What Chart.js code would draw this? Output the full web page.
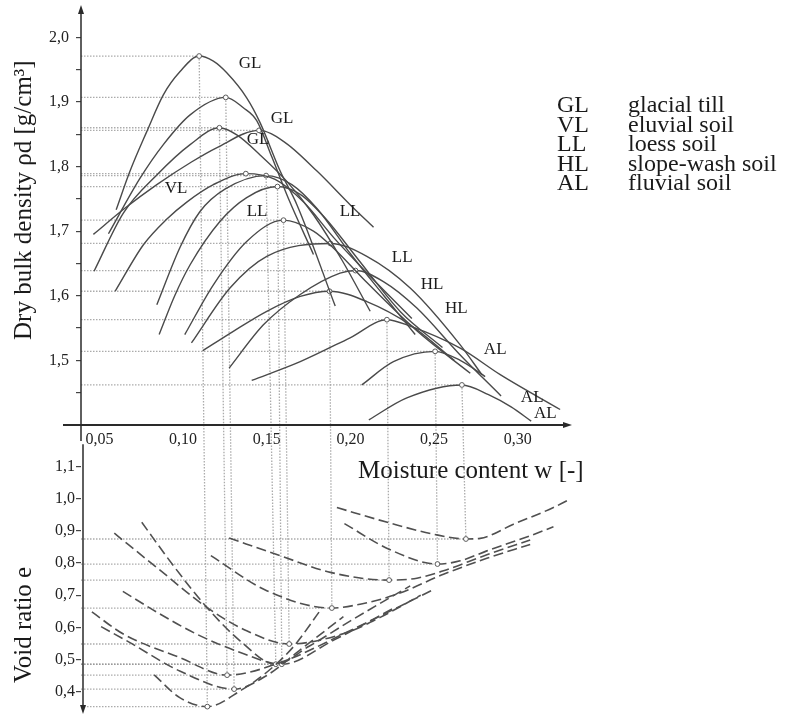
<!DOCTYPE html>
<html>
<head>
<meta charset="utf-8">
<script src="https://cdn.jsdelivr.net/npm/chart.js@4"></script>
<style>
  html, body { margin: 0; padding: 0; background: #fff; }
  #wrap { position: relative; width: 787px; height: 717px; }
  canvas { display: block; }
</style>
</head>
<body>
<div id="wrap"><canvas id="c" width="787" height="717"></canvas></div>
<script>
// Compaction test results: dry bulk density (top) and void ratio (bottom)
// plotted against moisture content on one shared horizontal axis.

const xTicks = [0.05, 0.10, 0.15, 0.20, 0.25, 0.30];
const densityTicks = [1.5, 1.6, 1.7, 1.8, 1.9, 2.0];
const densityMinorTicks = [1.45, 1.55, 1.65, 1.75, 1.85, 1.95];
const voidTicks = [0.4, 0.5, 0.6, 0.7, 0.8, 0.9, 1.0, 1.1];

// [moisture content w, dry bulk density] for each compaction curve
const dens01 = [[0.060,1.733],[0.0683,1.793],[0.0783,1.854],[0.0882,1.911],[0.0982,1.947],[0.1096,1.971],[0.1181,1.963],[0.1261,1.945],[0.1381,1.906],[0.146,1.868],[0.158,1.793],[0.168,1.741],[0.1909,1.584]];
const dens02 = [[0.0554,1.696],[0.0743,1.782],[0.0882,1.834],[0.1042,1.880],[0.1255,1.907],[0.136,1.891],[0.144,1.871],[0.153,1.815],[0.163,1.750],[0.1779,1.664]];
const dens03 = [[0.0468,1.638],[0.0643,1.728],[0.0843,1.787],[0.1042,1.834],[0.1217,1.860],[0.1321,1.849],[0.146,1.818],[0.162,1.777],[0.178,1.725],[0.195,1.655],[0.2118,1.576]];
const dens04 = [[0.0464,1.695],[0.065,1.735],[0.0843,1.772],[0.105,1.807],[0.120,1.829],[0.1454,1.856],[0.160,1.839],[0.180,1.793],[0.1998,1.741],[0.2138,1.706]];
const dens05 = [[0.0594,1.607],[0.0763,1.679],[0.090,1.718],[0.1022,1.745],[0.1181,1.772],[0.1375,1.789],[0.155,1.780],[0.172,1.745],[0.190,1.690],[0.210,1.635],[0.2367,1.565]];
const dens06 = [[0.0843,1.586],[0.0982,1.675],[0.110,1.730],[0.125,1.765],[0.1496,1.786],[0.165,1.772],[0.180,1.735],[0.200,1.665],[0.220,1.600],[0.2387,1.540]];
const dens07 = [[0.0857,1.540],[0.095,1.600],[0.1042,1.648],[0.122,1.715],[0.138,1.752],[0.1564,1.769],[0.170,1.757],[0.185,1.720],[0.205,1.655],[0.230,1.575],[0.255,1.520]];
const dens08 = [[0.101,1.540],[0.1181,1.617],[0.138,1.684],[0.160,1.717],[0.1779,1.700],[0.1898,1.674],[0.210,1.620],[0.240,1.545],[0.2716,1.480]];
const dens09 = [[0.105,1.527],[0.128,1.612],[0.150,1.661],[0.188,1.681],[0.2098,1.661],[0.2357,1.612],[0.2656,1.524],[0.2785,1.478]];
const dens10 = [[0.1275,1.488],[0.148,1.555],[0.170,1.602],[0.1938,1.635],[0.203,1.639],[0.2197,1.622],[0.2397,1.581],[0.265,1.510],[0.290,1.445]];
const dens11 = [[0.1118,1.515],[0.130,1.545],[0.150,1.576],[0.170,1.599],[0.1875,1.607],[0.2098,1.591],[0.2357,1.555],[0.262,1.500]];
const dens12 = [[0.141,1.469],[0.170,1.498],[0.1998,1.535],[0.2218,1.563],[0.2357,1.553],[0.2656,1.519],[0.2895,1.478],[0.3253,1.424]];
const dens13 = [[0.2068,1.462],[0.2257,1.498],[0.2506,1.514],[0.2656,1.500],[0.2805,1.475]];
const dens14 = [[0.211,1.408],[0.2337,1.442],[0.2666,1.462],[0.2825,1.447],[0.296,1.428],[0.308,1.406]];
const densityCurves = [dens01, dens02, dens03, dens04, dens05, dens06, dens07, dens08, dens09, dens10, dens11, dens12, dens13, dens14];

// [moisture content w, void ratio e] for each void ratio curve
const void01 = [[0.0827,0.452],[0.098,0.381],[0.1145,0.353],[0.135,0.405],[0.150,0.460],[0.166,0.540],[0.1819,0.652]];
const void02 = [[0.0455,0.648],[0.0643,0.579],[0.098,0.506],[0.1263,0.451],[0.158,0.490],[0.200,0.590],[0.2494,0.717]];
const void03 = [[0.051,0.602],[0.068,0.553],[0.098,0.464],[0.1305,0.4075],[0.150,0.450],[0.170,0.530],[0.1958,0.633]];
const void04 = [[0.0753,0.927],[0.0942,0.792],[0.1142,0.662],[0.134,0.558],[0.1554,0.485],[0.175,0.540],[0.200,0.620],[0.2357,0.729]];
const void05 = [[0.064,0.712],[0.085,0.645],[0.108,0.579],[0.135,0.520],[0.159,0.485],[0.190,0.560],[0.226,0.660]];
const void06 = [[0.0589,0.893],[0.0843,0.786],[0.1142,0.662],[0.138,0.589],[0.1634,0.548],[0.198,0.584],[0.2178,0.631],[0.242,0.700]];
const void07 = [[0.1166,0.823],[0.150,0.714],[0.1889,0.660],[0.2058,0.672],[0.2277,0.703],[0.2556,0.765],[0.2815,0.815],[0.3074,0.858]];
const void08 = [[0.1275,0.878],[0.158,0.823],[0.188,0.771],[0.2231,0.747],[0.2397,0.753],[0.2556,0.776],[0.2815,0.826],[0.3074,0.872]];
const void09 = [[0.1964,0.923],[0.2227,0.844],[0.252,0.797],[0.2656,0.807],[0.2815,0.838],[0.3074,0.885],[0.3213,0.913]];
const void10 = [[0.1919,0.973],[0.2227,0.926],[0.2496,0.890],[0.269,0.875],[0.2775,0.877],[0.2974,0.921],[0.3213,0.973],[0.3353,1.010]];
const voidCurves = [void01, void02, void03, void04, void05, void06, void07, void08, void09, void10];

// density curve (index into densityCurves) that each void ratio curve belongs to
const voidToDensity = [0, 2, 1, 5, 6, 7, 10, 11, 12, 13];

// soil group labels placed next to the curves, at [w, density]
const curveLabelText = ['GL', 'GL', 'GL', 'VL', 'LL', 'LL', 'LL', 'HL', 'HL', 'AL', 'AL', 'AL'];
const curveLabelW   = [0.1400, 0.1592, 0.1448, 0.0958, 0.1442, 0.1998, 0.2309, 0.2488, 0.2632, 0.2865, 0.3086, 0.3164];
const curveLabelRho = [1.9598, 1.8746, 1.8421, 1.7663, 1.7307, 1.7307, 1.6594, 1.6176, 1.5805, 1.5170, 1.4427, 1.4180];

const legendCodes = ['GL', 'VL', 'LL', 'HL', 'AL'];
const legendNames = ['glacial till', 'eluvial soil', 'loess soil', 'slope-wash soil', 'fluvial soil'];

const SERIF = '"Liberation Serif", "Times New Roman", serif';
const fmtComma = (v, d) => v.toFixed(d).replace('.', ',');
const isIn = (list, v) => list.some(t => Math.abs(t - v) < 1e-9);
const toPts = arr => arr.map(([x, y]) => ({ x, y }));
const argMax = arr => arr.reduce((b, p, i) => (p[1] > arr[b][1] ? i : b), 0);
const argMin = arr => arr.reduce((b, p, i) => (p[1] < arr[b][1] ? i : b), 0);

const densitySets = densityCurves.map(c => {
  const k = argMax(c);
  return {
    data: toPts(c), yAxisID: 'y',
    borderColor: '#4a4a4a', borderWidth: 1.4,
    cubicInterpolationMode: 'monotone', fill: false,
    pointRadius: c.map((_, i) => (i === k ? 2.4 : 0)),
    pointBackgroundColor: '#fff', pointBorderColor: '#5a5a5a', pointBorderWidth: 1
  };
});
const voidSets = voidCurves.map(c => {
  const k = argMin(c);
  return {
    data: toPts(c), yAxisID: 'y2',
    borderColor: '#505050', borderWidth: 1.6, borderDash: [10, 4.5],
    cubicInterpolationMode: 'monotone', fill: false,
    pointRadius: c.map((_, i) => (i === k ? 2.4 : 0)),
    pointBackgroundColor: '#fff', pointBorderColor: '#5a5a5a', pointBorderWidth: 1
  };
});

function arrowHead(ctx, x, y, dir) {
  ctx.beginPath();
  if (dir === 'up')    { ctx.moveTo(x, y); ctx.lineTo(x - 3, y + 9); ctx.lineTo(x + 3, y + 9); }
  if (dir === 'down')  { ctx.moveTo(x, y); ctx.lineTo(x - 3, y - 9); ctx.lineTo(x + 3, y - 9); }
  if (dir === 'right') { ctx.moveTo(x, y); ctx.lineTo(x - 9, y - 3); ctx.lineTo(x - 9, y + 3); }
  ctx.closePath();
  ctx.fill();
}

function seg(ctx, x1, y1, x2, y2) {
  ctx.beginPath(); ctx.moveTo(x1, y1); ctx.lineTo(x2, y2); ctx.stroke();
}

// keep the stacked vertical axes from reserving room for their end labels
function fixAxisBox(s) {
  s.width = 81;
  s.paddingTop = 0;
  s.paddingBottom = 0;
}

const decorations = {
  id: 'decorations',
  beforeDatasetsDraw(chart) {
    const { ctx, scales: { x, y, y2 } } = chart;
    const ax = x.getPixelForValue(x.min);
    ctx.save();
    ctx.strokeStyle = 'rgba(150,150,150,0.8)';
    ctx.lineWidth = 1.3;
    ctx.setLineDash([1.5, 1.5]);
    // dotted lines from the axis to each maximum dry density
    densityCurves.forEach(c => {
      const p = c[argMax(c)];
      const py = y.getPixelForValue(p[1]);
      seg(ctx, ax, py, x.getPixelForValue(p[0]), py);
    });
    // dotted lines to each minimum void ratio, and the vertical link to its density peak
    voidCurves.forEach((c, i) => {
      const m = c[argMin(c)];
      const mx = x.getPixelForValue(m[0]);
      const my = y2.getPixelForValue(m[1]);
      seg(ctx, ax, my, mx, my);
      const d = densityCurves[voidToDensity[i]];
      const p = d[argMax(d)];
      seg(ctx, x.getPixelForValue(p[0]), y.getPixelForValue(p[1]), mx, my);
    });
    ctx.restore();
  },
  afterDraw(chart) {
    const { ctx, scales: { x, y, y2 } } = chart;
    const ax = x.getPixelForValue(x.min);
    const x0 = y.getPixelForValue(y.min);
    ctx.save();
    ctx.strokeStyle = '#2a2a2a';
    ctx.fillStyle = '#2a2a2a';
    // horizontal axis with arrow
    ctx.lineWidth = 2;
    seg(ctx, ax - 18, x0, x.getPixelForValue(x.max) - 2, x0);
    arrowHead(ctx, x.getPixelForValue(x.max) + 4, x0, 'right');
    // upper vertical axis
    ctx.lineWidth = 1.5;
    seg(ctx, ax, x0 + 16, ax, y.getPixelForValue(y.max) + 4);
    arrowHead(ctx, ax, y.getPixelForValue(y.max), 'up');
    // lower vertical axis, pointing down
    seg(ctx, ax + 2, y2.getPixelForValue(1.17), ax + 2, y2.getPixelForValue(y2.min) - 4);
    arrowHead(ctx, ax + 2, y2.getPixelForValue(y2.min), 'down');

    // axis titles
    ctx.fillStyle = '#1a1a1a';
    ctx.font = '25px ' + SERIF;
    ctx.textAlign = 'left';
    ctx.textBaseline = 'alphabetic';
    ctx.fillText('Moisture content w [-]', 358, 478);
    ctx.save();
    ctx.translate(31, 340);
    ctx.rotate(-Math.PI / 2);
    ctx.fillText('Dry bulk density ρd [g/cm³]', 0, 0);
    ctx.restore();
    ctx.save();
    ctx.translate(31, 683);
    ctx.rotate(-Math.PI / 2);
    ctx.fillText('Void ratio e', 0, 0);
    ctx.restore();

    // soil group labels on the curves
    ctx.font = '17px ' + SERIF;
    ctx.textAlign = 'center';
    ctx.textBaseline = 'middle';
    curveLabelText.forEach((t, i) => {
      ctx.fillText(t, x.getPixelForValue(curveLabelW[i]), y.getPixelForValue(curveLabelRho[i]));
    });

    // key to the soil groups
    ctx.font = '24px ' + SERIF;
    ctx.textAlign = 'left';
    ctx.textBaseline = 'alphabetic';
    legendCodes.forEach((code, i) => {
      const by = 112 + i * 19.5;
      ctx.fillText(code, 557, by);
      ctx.fillText(legendNames[i], 628, by);
    });
    ctx.restore();
  }
};

const tickFont = { family: SERIF, size: 16 };

new Chart(document.getElementById('c'), {
  type: 'line',
  data: { datasets: [...densitySets, ...voidSets] },
  options: {
    responsive: false,
    animation: false,
    devicePixelRatio: 1,
    events: [],
    layout: { padding: { left: 0, top: 5, right: 219, bottom: 3 } },
    plugins: { legend: { display: false }, tooltip: { enabled: false } },
    scales: {
      x: {
        type: 'linear', min: 0.039, max: 0.33,
        position: { y: 1.40 },
        afterBuildTicks: s => { s.ticks = xTicks.map(v => ({ value: v })); },
        ticks: { callback: v => fmtComma(v, 2), font: tickFont, color: '#222', padding: -3, maxRotation: 0, autoSkip: false },
        grid: { display: false },
        border: { display: false }
      },
      y: {
        type: 'linear', min: 1.40, max: 2.05,
        position: 'left', stack: 'plots', stackWeight: 420, weight: 2,
        afterBuildTicks: s => { s.ticks = [...densityMinorTicks, ...densityTicks].sort((a, b) => a - b).map(v => ({ value: v })); },
        afterFit: fixAxisBox,
        ticks: { callback: v => (isIn(densityTicks, v) ? fmtComma(v, 1) : ''), font: tickFont, color: '#222', padding: 7, autoSkip: false },
        grid: { drawOnChartArea: false, drawTicks: true, tickLength: 5, color: '#444', lineWidth: 1.2 },
        border: { display: false }
      },
      y2: {
        type: 'linear', min: 0.33, max: 1.23,
        position: 'left', stack: 'plots', stackWeight: 289, weight: 1,
        afterBuildTicks: s => { s.ticks = voidTicks.map(v => ({ value: v })); },
        afterFit: fixAxisBox,
        ticks: { callback: v => fmtComma(v, 1), font: tickFont, color: '#222', padding: 1, autoSkip: false },
        grid: { drawOnChartArea: false, drawTicks: true, tickLength: 5, color: '#444', lineWidth: 1.2 },
        border: { display: false }
      }
    }
  },
  plugins: [decorations]
});
</script>
</body>
</html>
